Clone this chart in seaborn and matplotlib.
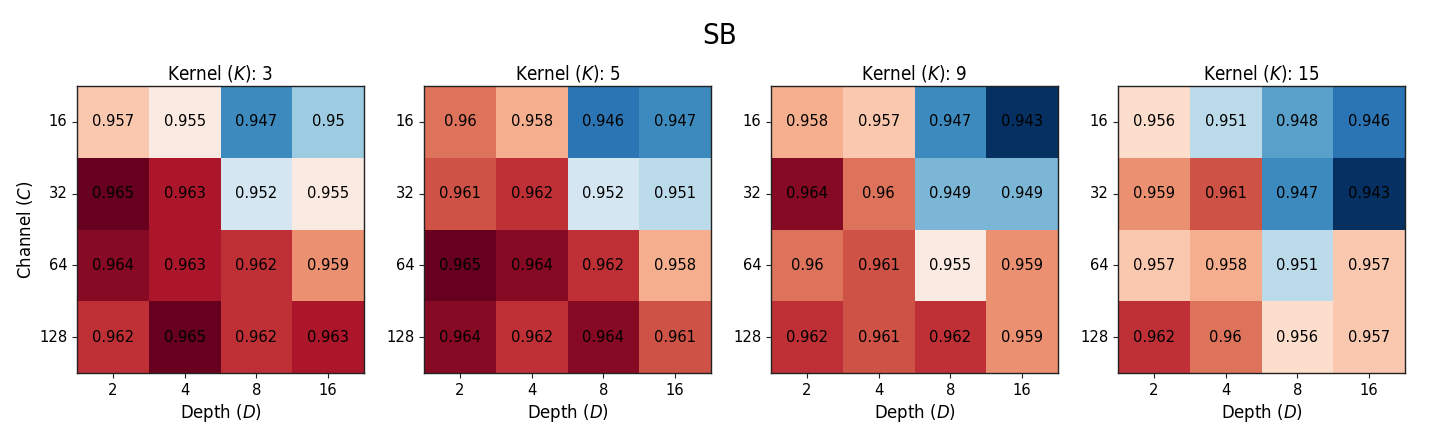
import numpy as np
import pandas as pd
import matplotlib
matplotlib.use("Agg")
import matplotlib.pyplot as plt
import seaborn as sns

depths = [2, 4, 8, 16]
channels = [16, 32, 64, 128]
kernels = [3, 5, 9, 15]

k3 = [[0.957, 0.955, 0.947, 0.95],
      [0.965, 0.963, 0.952, 0.955],
      [0.964, 0.963, 0.962, 0.959],
      [0.962, 0.965, 0.962, 0.963]]
k5 = [[0.96, 0.958, 0.946, 0.947],
      [0.961, 0.962, 0.952, 0.951],
      [0.965, 0.964, 0.962, 0.958],
      [0.964, 0.962, 0.964, 0.961]]
k9 = [[0.958, 0.957, 0.947, 0.943],
      [0.964, 0.96, 0.949, 0.949],
      [0.96, 0.961, 0.955, 0.959],
      [0.962, 0.961, 0.962, 0.959]]
k15 = [[0.956, 0.951, 0.948, 0.946],
       [0.959, 0.961, 0.947, 0.943],
       [0.957, 0.958, 0.951, 0.957],
       [0.962, 0.96, 0.956, 0.957]]

panels = [k3, k5, k9, k15]
allv = np.array(panels)
vmin, vmax = allv.min(), allv.max()

sns.set_style("white")
plt.rcParams["font.family"] = ["DejaVu Sans"]
plt.rcParams["font.stretch"] = "condensed"
plt.rcParams["mathtext.fontset"] = "custom"
plt.rcParams["mathtext.it"] = "DejaVu Sans:style=italic:stretch=condensed"
plt.rcParams["mathtext.rm"] = "DejaVu Sans:stretch=condensed"
for key in ["text.color", "axes.labelcolor", "xtick.color", "ytick.color"]:
    plt.rcParams[key] = "black"

fig = plt.figure(figsize=(14.4, 4.32), dpi=100)
lefts = [77, 424, 771, 1118]
for i, (k, vals) in enumerate(zip(kernels, panels)):
    ax = fig.add_axes([lefts[i] / 1440, 59 / 432, 287 / 1440, 287 / 432])
    df = pd.DataFrame(vals, index=channels, columns=depths)
    labels = np.array([[str(round(v, 3)) for v in row] for row in vals])
    sns.heatmap(df, ax=ax, cmap="RdBu_r", vmin=vmin, vmax=vmax, cbar=False,
                annot=labels, fmt="", annot_kws={"color": "black", "fontsize": 11.8})
    for s in ax.spines.values():
        s.set_visible(True)
        s.set_color("#222222")
        s.set_linewidth(1.0)
    ax.tick_params(axis="both", which="both", length=3.5, width=0.8,
                   labelsize=11.8, left=True, bottom=True, color="#222222")
    ax.set_yticklabels(channels, rotation=0)
    ax.set_xticklabels(depths, rotation=0)
    ax.set_title(f"Kernel ($K$): {k}", fontsize=13.5, pad=5)
    ax.set_xlabel("Depth ($D$)", fontsize=13.2, labelpad=3)
    if i == 0:
        ax.set_ylabel("Channel ($C$)", fontsize=13.2, labelpad=3)
    else:
        ax.set_ylabel("")

fig.suptitle("SB", fontsize=21, y=0.95)
fig.savefig("out.png", dpi=100)
